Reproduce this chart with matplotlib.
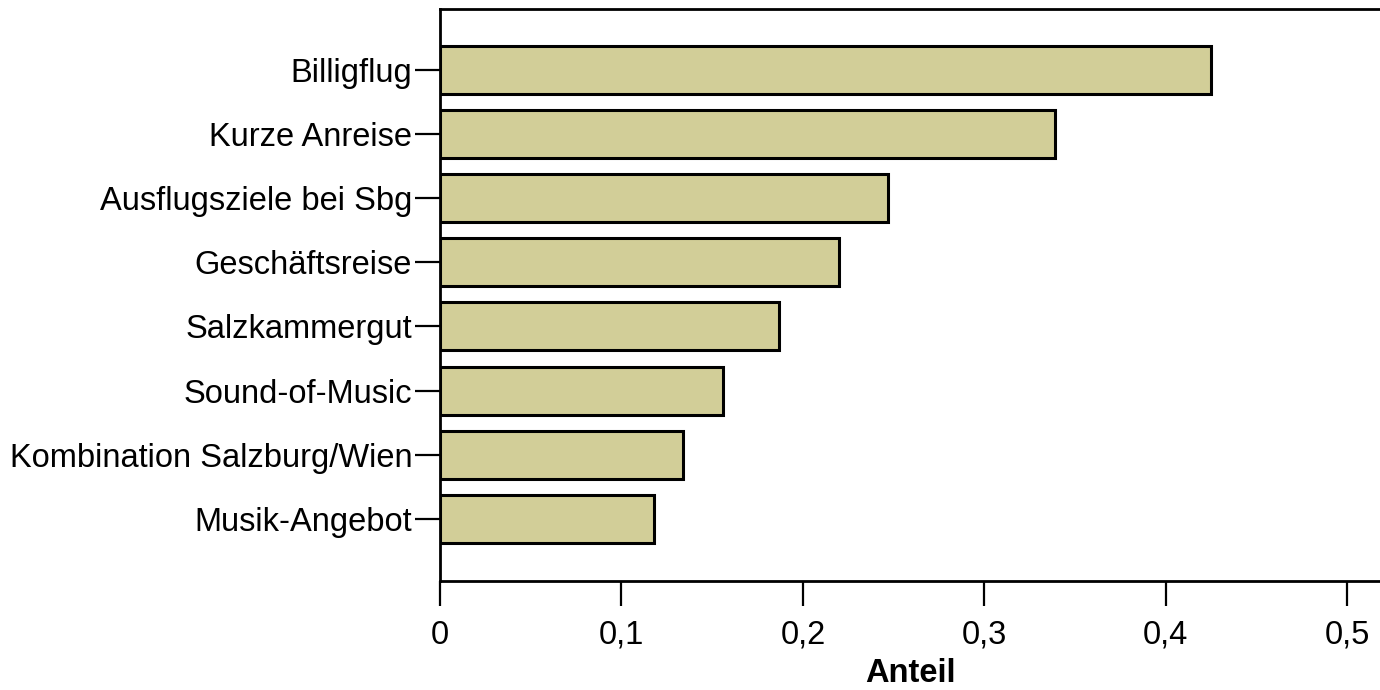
import numpy as np
import matplotlib.pyplot as plt

plt.rcParams['font.family'] = ['Liberation Sans', 'DejaVu Sans']

# Daten
kategorien = ["Billigflug", "Kurze Anreise", "Ausflugsziele bei Sbg", "Geschäftsreise",
              "Salzkammergut", "Sound-of-Music", "Kombination Salzburg/Wien", "Musik-Angebot"]
anteile = [0.425, 0.339, 0.247, 0.220, 0.187, 0.156, 0.134, 0.118]
xticks = [0, 0.1, 0.2, 0.3, 0.4, 0.5]
xticklabels = ["0", "0,1", "0,2", "0,3", "0,4", "0,5"]

fig = plt.figure(figsize=(13.8, 6.9), dpi=100)
ax = fig.add_axes([440/1380, 1-581/690, 1-440/1380, (581-9)/690])

pos = np.arange(len(kategorien))
ax.barh(pos, anteile, height=0.75, color='#D2CE98', edgecolor='black', linewidth=2.2)

ax.set_xlim(0, 0.518)
ax.set_ylim(7.97, -0.95)
ax.set_yticks(pos)
ax.set_yticklabels(kategorien)
ax.set_xticks(xticks)
ax.set_xticklabels(xticklabels)
ax.tick_params(axis='both', direction='out', length=18, width=1.6, labelsize=23.5, pad=2)
ax.tick_params(axis='x', pad=10)

ax.spines['right'].set_visible(False)
for s in ['left', 'bottom', 'top']:
    ax.spines[s].set_linewidth(2.0)

ax.set_xlabel("Anteil", fontsize=23.5, fontweight='bold', labelpad=5)

fig.savefig('out.png', dpi=100)
